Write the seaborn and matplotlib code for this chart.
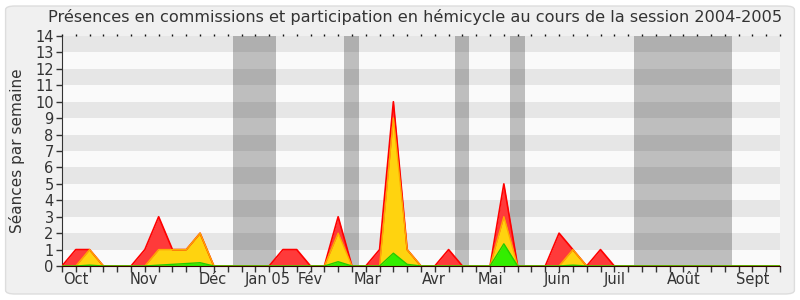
import numpy as np
import pandas as pd
import matplotlib
matplotlib.use("Agg")
import matplotlib.pyplot as plt
from matplotlib.patches import FancyBboxPatch
import matplotlib.transforms as mtransforms
import seaborn as sns

# ---- data (weekly values, week index 0..52) ----
weeks = list(range(53))
total = [0, 1, 1, 0, 0, 0, 1, 3, 1, 1, 2, 0, 0, 0, 0, 0, 1, 1, 0, 0,
         3, 0, 0, 1, 10, 1, 0, 0, 1, 0, 0, 0, 5, 0, 0, 0, 2, 1, 0, 1,
         0, 0, 0, 0, 0, 0, 0, 0, 0, 0, 0, 0, 0]
hemicycle = [0, 0, 1, 0, 0, 0, 0, 1, 1, 1, 2, 0, 0, 0, 0, 0, 0, 0, 0, 0,
             2, 0, 0, 0, 9, 1, 0, 0, 0, 0, 0, 0, 3, 0, 0, 0, 0, 1, 0, 0,
             0, 0, 0, 0, 0, 0, 0, 0, 0, 0, 0, 0, 0]
commission = [0, 0, 0.05, 0, 0, 0, 0, 0.05, 0.1, 0.15, 0.2, 0, 0, 0, 0, 0, 0, 0, 0, 0,
              0.26, 0, 0, 0, 0.78, 0.1, 0, 0, 0, 0, 0, 0, 1.35, 0, 0, 0, 0, 0.05, 0, 0,
              0, 0, 0, 0, 0, 0, 0, 0, 0, 0, 0, 0, 0]
month_labels = ["Oct", "Nov", "Déc", "Jan 05", "Fév", "Mar", "Avr", "Mai",
                "Juin", "Juil", "Août", "Sept"]
month_pos = [1.0, 5.95, 10.9, 14.9, 17.95, 22.1, 26.9, 31.05, 35.9, 40.0, 45.0, 50.0]
vacations = [(12.4, 15.5), (20.45, 21.5), (28.45, 29.5), (32.45, 33.5), (41.45, 48.5)]

df = pd.DataFrame({"week": weeks, "total": total,
                   "hemicycle": hemicycle, "commission": commission})

sns.set_style("white")
plt.rcParams['font.family'] = ['DejaVu Sans']

fig = plt.figure(figsize=(8, 3), dpi=100)
fig.patch.set_facecolor("white")
fig.patches.append(FancyBboxPatch((0.007, 0.02), 0.986, 0.96,
                                  boxstyle="round,pad=0,rounding_size=0.012",
                                  transform=fig.transFigure, facecolor="#F0F0F0",
                                  edgecolor="#DDDDDD", linewidth=1, zorder=-10))

ax = fig.add_axes([62/800, 1-266/300, 718/800, 230/300])
ax.set_facecolor("#FAFAFA")
ax.set_xlim(0, 52)
ax.set_ylim(0, 14)

# horizontal stripes
for k in range(1, 14, 2):
    ax.axhspan(k, k+1, color="#E6E6E6", zorder=0, lw=0)
# vacation bands
for a, b in vacations:
    ax.axvspan(a, b, color="black", alpha=0.24, zorder=1, lw=0)

# areas
ax.fill_between(df["week"], df["total"], color="#FF3A3A", zorder=2, lw=0)
ax.fill_between(df["week"], df["hemicycle"], color="#FFD30F", zorder=3, lw=0)
ax.fill_between(df["week"], df["commission"], color="#33EE00", zorder=4, lw=0)
sns.lineplot(data=df, x="week", y="total", ax=ax, color="#FF0000", lw=1.2, zorder=5)
sns.lineplot(data=df, x="week", y="hemicycle", ax=ax, color="#FFAA00", lw=1.0, zorder=6)
sns.lineplot(data=df, x="week", y="commission", ax=ax, color="#22CC00", lw=1.0, zorder=7)

ax.set_xlabel("")
ax.set_ylabel("Séances par semaine", fontsize=11, color="#333333")
ax.yaxis.set_label_coords(-0.052, 0.5)

for s in ["top", "right"]:
    ax.spines[s].set_visible(False)
ax.spines["left"].set_color("#333333")
ax.spines["bottom"].set_color("#330000")
ax.spines["bottom"].set_zorder(10)

ax.set_yticks(range(0, 15))
ax.set_xticks(weeks)
ax.set_xticklabels([])
ax.tick_params(axis="x", which="major", direction="out", length=4, width=1, color="#333333")
ax.tick_params(axis="y", direction="out", length=4, width=1, color="#333333",
               labelsize=10.5, labelcolor="#333333", pad=2)
ax.tick_params(left=True, bottom=True)

trans = mtransforms.blended_transform_factory(ax.transData, ax.transAxes)
for lab, pos in zip(month_labels, month_pos):
    ax.text(pos, -0.025, lab, transform=trans, ha="center", va="top",
            fontsize=10.5, color="#333333")

sec = ax.secondary_xaxis("top")
sec.set_xticks(weeks)
sec.set_xticklabels([])
sec.tick_params(direction="out", length=1.2, width=1.0, color="#111111")
sec.spines["top"].set_visible(False)

fig.text(0.519, 0.943, "Présences en commissions et participation en hémicycle au cours de la session 2004-2005",
         ha="center", va="center", fontsize=11.6, color="#333333")

fig.savefig("out.png", dpi=100, facecolor=fig.get_facecolor())
